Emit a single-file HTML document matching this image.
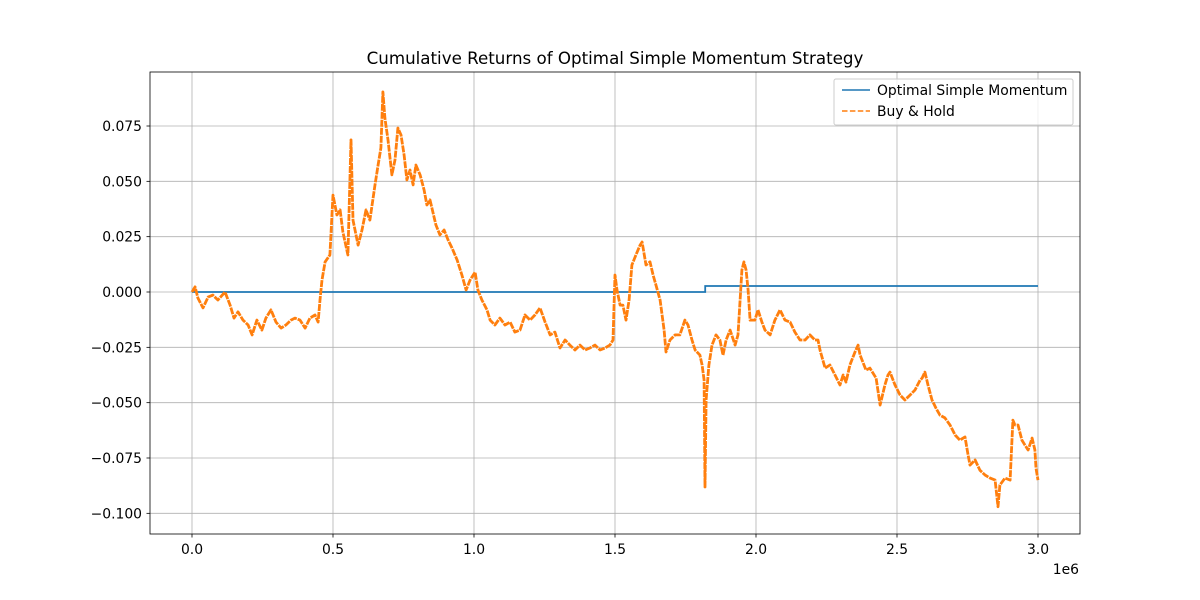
<!DOCTYPE html>
<html><head><meta charset="utf-8"><style>
body{margin:0;background:#fff;}
svg{display:block;font-family:"DejaVu Sans","Liberation Sans",sans-serif;}
</style></head><body>
<svg id="chart" width="1200" height="600" xmlns="http://www.w3.org/2000/svg">
<rect width="1200" height="600" fill="#fff"/>
<g id="grid"></g>
<g id="series"></g>
<rect x="150" y="72" width="930" height="462" fill="none" stroke="#000" stroke-width="0.8"/>
<g id="ticks"></g>
<text x="615" y="64" text-anchor="middle" font-size="16.7">Cumulative Returns of Optimal Simple Momentum Strategy</text>
<text x="1079" y="574" text-anchor="end" font-size="13.9">1e6</text>
<g>
<rect x="834" y="79" width="239" height="46" fill="#fff" fill-opacity="0.8" stroke="#ccc" rx="2"/>
<line x1="842" y1="90" x2="870" y2="90" stroke="#1f77b4" stroke-width="1.5"/>
<text x="877" y="95" font-size="13.9">Optimal Simple Momentum</text>
<line x1="842" y1="111" x2="870" y2="111" stroke="#ff7f0e" stroke-width="1.5" stroke-dasharray="5.5 2.4"/>
<text x="877" y="116" font-size="13.9">Buy &amp; Hold</text>
</g>
</svg>
<script>
// x in thousands of steps, y in 1e-3 return units
const bhX=[0,11,21,39,57,74,92,117,135,149,163,181,199,213,230,248,262,280,298,316,333,351,365,383,401,418,436,447,454,461,472,489,500,514,525,535,553,564,571,589,603,617,631,649,660,670,677,684,695,709,720,730,741,752,762,773,784,794,809,823,833,844,865,879,894,908,922,940,957,972,986,1004,1014,1028,1046,1057,1074,1092,1110,1128,1145,1163,1181,1199,1216,1234,1252,1270,1287,1305,1323,1340,1358,1376,1394,1411,1429,1447,1465,1482,1493,1500,1507,1518,1528,1539,1550,1560,1574,1589,1596,1610,1624,1635,1645,1660,1674,1681,1695,1713,1730,1748,1759,1773,1784,1801,1809,1816,1819,1823,1833,1844,1858,1872,1883,1894,1908,1926,1936,1950,1957,1965,1972,1979,1996,2007,2021,2032,2050,2067,2085,2103,2121,2138,2156,2174,2191,2209,2220,2227,2245,2262,2280,2298,2309,2319,2333,2351,2362,2369,2376,2390,2404,2426,2440,2457,2468,2475,2493,2511,2528,2546,2564,2582,2589,2599,2610,2624,2638,2652,2670,2688,2706,2723,2741,2752,2759,2777,2794,2812,2830,2848,2858,2865,2883,2901,2911,2918,2929,2943,2954,2965,2979,2989,2993,3000];
const bhY=[0,2.3,-2.7,-7.2,-2.3,-1.4,-3.6,0,-5.9,-11.8,-9.0,-12.7,-14.9,-19.4,-12.7,-17.2,-11.8,-8.1,-13.6,-16.3,-14.9,-12.7,-11.8,-12.7,-16.3,-11.8,-10.4,-13.6,-3.6,5.4,13.6,16.7,43.8,34.8,37.1,27.1,16.7,68.7,32.5,21.2,28.0,37.1,32.5,48.4,57.4,65.1,90.4,78.6,68.7,52.9,59.7,74.1,71.0,61.9,50.6,55.1,48.4,57.4,52.9,46.1,39.3,41.6,30.3,25.8,28.0,23.5,19.9,14.5,7.7,0.9,5.4,9.0,0.9,-3.6,-8.1,-12.7,-14.9,-11.8,-14.9,-13.6,-18.1,-17.2,-10.4,-12.7,-10.4,-7.2,-13.6,-19.4,-18.1,-25.3,-21.7,-24.0,-26.2,-24.0,-26.2,-25.3,-24.0,-26.2,-25.3,-24.0,-21.7,7.7,0.9,-5.9,-5.9,-12.7,-3.6,12.2,16.7,21.2,22.6,12.2,13.6,7.7,3.2,-3.6,-17.2,-27.1,-21.7,-19.4,-19.4,-12.7,-14.9,-21.7,-26.2,-28.5,-33.0,-39.8,-88.1,-48.8,-33.0,-24.0,-19.4,-21.7,-28.5,-21.7,-17.2,-24.0,-19.4,9.9,13.6,9.9,0.9,-12.7,-12.7,-8.1,-13.6,-17.2,-19.4,-12.7,-8.1,-12.7,-13.6,-18.1,-21.7,-21.7,-19.4,-21.7,-21.7,-26.2,-34.4,-33.0,-37.5,-42.0,-37.5,-40.7,-33.0,-27.1,-24.0,-28.5,-30.7,-35.3,-34.4,-38.9,-51.1,-42.0,-37.5,-36.2,-42.0,-46.6,-48.8,-46.6,-44.3,-39.8,-38.9,-36.2,-42.0,-48.8,-52.4,-55.6,-56.9,-60.1,-64.6,-66.9,-65.5,-73.7,-78.2,-75.9,-80.5,-82.7,-84.1,-85.0,-97.0,-87.2,-84.1,-85.0,-57.9,-60.1,-60.1,-66.9,-69.2,-71.4,-66.0,-71.4,-79.6,-85.0];
const momX=[0,1820,1820,3000];
const momY=[0,0,2.7,2.7];
const xTicks=[0,0.5,1.0,1.5,2.0,2.5,3.0];
const xTickLabels=["0.0","0.5","1.0","1.5","2.0","2.5","3.0"];
const yTicks=[0.075,0.05,0.025,0,-0.025,-0.05,-0.075,-0.1];
const yTickLabels=["0.075","0.050","0.025","0.000","−0.025","−0.050","−0.075","−0.100"];

const NS="http://www.w3.org/2000/svg";
const sx=v=>192+v*282;
const sy=v=>292-v*2213.3;
function mk(tag,attrs,parent){const e=document.createElementNS(NS,tag);for(const k in attrs)e.setAttribute(k,attrs[k]);parent.appendChild(e);return e;}
const grid=document.getElementById('grid'),ticks=document.getElementById('ticks'),series=document.getElementById('series');
xTicks.forEach((t,i)=>{
  const x=sx(t);
  const g=mk('line',{x1:x,x2:x,y1:72,y2:534,stroke:'#b0b0b0','stroke-width':0.8},grid);
  
  
  mk('line',{x1:x,x2:x,y1:534,y2:537.5,stroke:'#000','stroke-width':0.8},ticks);
  const tx=mk('text',{x:x,y:554,'text-anchor':'middle','font-size':13.9},ticks);
  tx.textContent=xTickLabels[i];
  
  
});
yTicks.forEach((t,i)=>{
  const y=sy(t);
  const g=mk('line',{x1:150,x2:1080,y1:y,y2:y,stroke:'#b0b0b0','stroke-width':0.8},grid);
  
  
  mk('line',{x1:146.5,x2:150,y1:y,y2:y,stroke:'#000','stroke-width':0.8},ticks);
  const tx=mk('text',{x:142,y:y+5,'text-anchor':'end','font-size':13.9},ticks);
  tx.textContent=yTickLabels[i];
  
  
});
const pts=(X,Y)=>X.map((x,i)=>sx(x/1000).toFixed(1)+','+sy(Y[i]/1000).toFixed(1)).join(' ');
const m=mk('polyline',{points:pts(momX,momY),fill:'none',stroke:'#1f77b4','stroke-width':1.8},series);


const b=mk('polyline',{points:pts(bhX,bhY),fill:'none',stroke:'#ff7f0e','stroke-width':2.8,'stroke-dasharray':'7 1','stroke-linejoin':'round'},series);


</script>
</body></html>
